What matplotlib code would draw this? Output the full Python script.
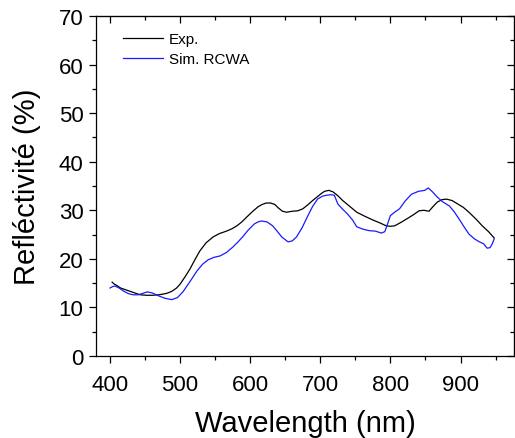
import matplotlib.pyplot as plt
import numpy as np
from matplotlib.ticker import MultipleLocator

plt.rcParams['font.family'] = ['Liberation Sans', 'DejaVu Sans']

exp_wl = [403, 406, 410, 415, 421, 427, 435, 443, 452, 460, 470, 481, 488, 495, 500, 507, 514,
          521, 528, 537, 547, 556, 566, 574, 581, 588, 595, 603, 611, 617, 623, 629, 635,
          640, 646, 652, 660, 668, 675, 682, 689, 695, 701, 706, 712, 718, 725, 732, 742,
          752, 763, 775, 785, 794, 800, 806, 815, 823, 832, 841, 848, 855, 861, 867, 874,
          880, 888, 896, 904, 912, 922, 931, 940, 948]
exp_r = [15.2, 14.8, 14.5, 14.0, 13.7, 13.4, 13.0, 12.6, 12.5, 12.5, 12.6, 12.9, 13.3, 14.0, 14.8,
         16.3, 17.9, 19.8, 21.6, 23.3, 24.5, 25.2, 25.7, 26.2, 26.8, 27.6, 28.6, 29.7, 30.7,
         31.2, 31.5, 31.5, 31.2, 30.5, 29.8, 29.6, 29.8, 29.9, 30.3, 31.1, 32.0, 32.7, 33.4,
         33.9, 34.1, 33.8, 33.0, 32.0, 30.8, 29.6, 28.8, 28.0, 27.4, 26.8, 26.7, 26.8, 27.5,
         28.2, 29.0, 29.9, 30.0, 29.8, 30.8, 31.7, 32.2, 32.3, 32.0, 31.3, 30.6, 29.6, 28.2,
         26.8, 25.6, 24.3]

# Simulated reflectivity, RCWA
sim_wl = [400, 404, 407, 413, 420, 427, 433, 440, 447, 453, 460, 469, 478, 488, 496, 504,
          514, 524, 532, 540, 548, 557, 566, 575, 582, 589, 597, 606, 611, 616, 624, 632,
          639, 645, 654, 660, 666, 674, 682, 689, 696, 703, 709, 715, 720, 725, 732, 739,
          746, 752, 761, 770, 779, 787, 792, 796, 800, 806, 813, 821, 830, 840, 849, 854,
          860, 867, 875, 884, 891, 898, 905, 912, 920, 927, 933, 938, 942, 945, 948]
sim_r = [14.0, 14.3, 14.4, 14.0, 13.3, 12.8, 12.6, 12.6, 12.9, 13.2, 13.0, 12.4, 11.9, 11.6, 12.0,
         13.2, 15.3, 17.5, 18.9, 19.8, 20.3, 20.6, 21.3, 22.4, 23.4, 24.5, 25.9, 27.2, 27.6,
         27.8, 27.6, 26.8, 25.6, 24.5, 23.5, 23.7, 24.5, 26.4, 28.8, 30.8, 32.3, 32.9, 33.1,
         33.2, 33.1, 31.3, 30.2, 29.2, 28.0, 26.6, 26.1, 25.8, 25.7, 25.3, 25.6, 27.2, 28.9,
         29.6, 30.3, 31.9, 33.3, 33.9, 34.1, 34.6, 33.8, 32.7, 31.7, 30.9, 29.7, 28.2, 26.6,
         25.1, 24.1, 23.5, 23.1, 22.2, 22.3, 23.0, 24.1]

fig = plt.figure(figsize=(5.15, 4.39), dpi=100)
ax = fig.add_axes([0.1864, 0.1868, 0.8126, 0.7745])

ax.plot(exp_wl, exp_r, color='black', lw=0.9, label='Exp.')
ax.plot(sim_wl, sim_r, color='#1a1aff', lw=0.9, label='Sim. RCWA')

ax.set_xlim(380, 977)
ax.set_ylim(0, 70)
ax.xaxis.set_major_locator(MultipleLocator(100))
ax.xaxis.set_minor_locator(MultipleLocator(50))
ax.yaxis.set_major_locator(MultipleLocator(10))
ax.yaxis.set_minor_locator(MultipleLocator(5))
ax.tick_params(which='major', direction='out', length=5, width=0.9, labelsize=16)
ax.tick_params(axis='x', which='major', pad=8)
ax.tick_params(axis='y', which='major', pad=4)
ax.tick_params(which='minor', direction='out', length=3, width=0.9)

# mirrored ticks pointing inward on top and right
top = ax.secondary_xaxis('top')
top.xaxis.set_major_locator(MultipleLocator(100))
top.xaxis.set_minor_locator(MultipleLocator(50))
top.tick_params(which='major', direction='in', length=5, width=0.9, labeltop=False)
top.tick_params(which='minor', direction='in', length=3, width=0.9)
right = ax.secondary_yaxis('right')
right.yaxis.set_major_locator(MultipleLocator(10))
right.yaxis.set_minor_locator(MultipleLocator(5))
right.tick_params(which='major', direction='in', length=5, width=0.9, labelright=False)
right.tick_params(which='minor', direction='in', length=3, width=0.9)

for s in ax.spines.values():
    s.set_linewidth(0.9)

ax.set_xlabel('Wavelength (nm)', fontsize=21, labelpad=10)
ax.set_ylabel('Refléctivité (%)', fontsize=21, labelpad=13)

ax.legend(loc='upper left', bbox_to_anchor=(0.05, 0.97), frameon=False, fontsize=11,
          handlelength=2.6, handletextpad=0.4, labelspacing=0.4, borderaxespad=0)

fig.savefig('out.png', dpi=100)
